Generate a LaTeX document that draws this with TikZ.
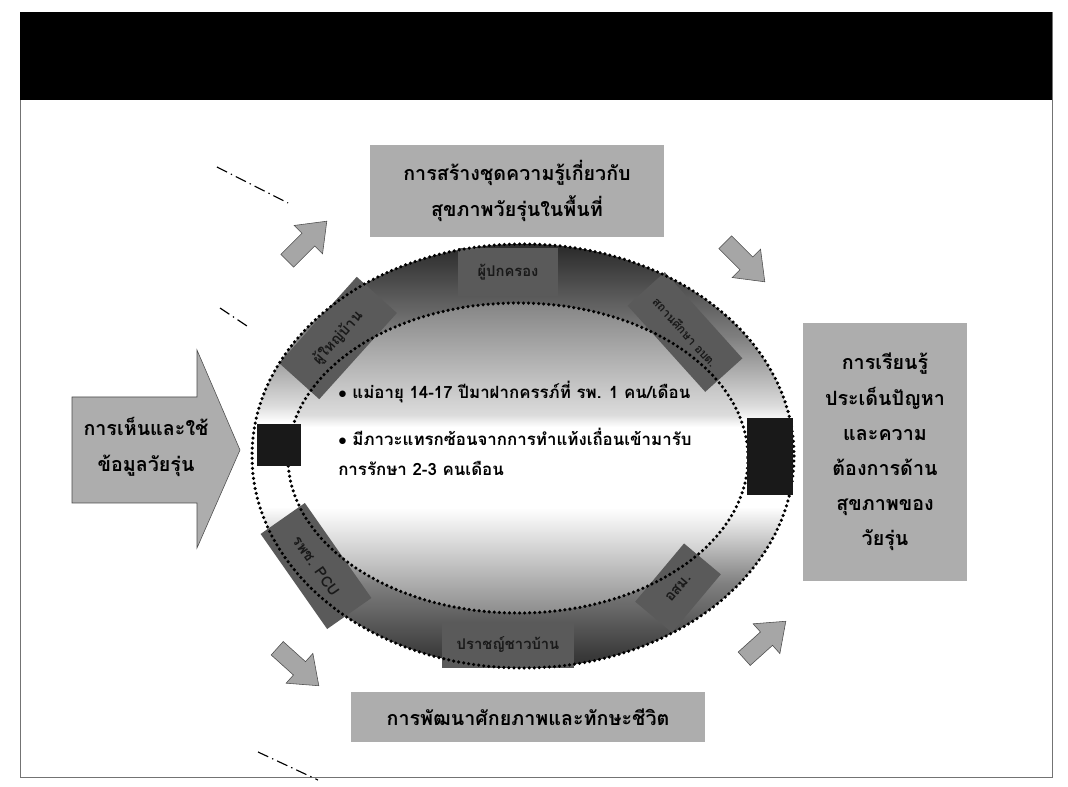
\documentclass[tikz,border=0pt]{standalone}
\usepackage{fontspec}
\newfontfamily\thaifont[Script=Thai]{Loma}
\usepackage{tikz}
\definecolor{boxgray}{HTML}{ADADAD}
\definecolor{taggray}{HTML}{5A5A5A}

\pgfdeclareverticalshading{ringshade}{100bp}{color(0bp)=(black!82); color(25bp)=(black!82); color(35bp)=(black!50); color(44bp)=(white); color(54bp)=(white); color(56bp)=(black!14); color(64bp)=(black!50); color(75bp)=(black!84); color(100bp)=(black!84)}
\pgfdeclareverticalshading{coreshade}{100bp}{color(0bp)=(black!45); color(25bp)=(black!45); color(42bp)=(white); color(55bp)=(white); color(57bp)=(black!14); color(75bp)=(black!48); color(100bp)=(black!48)}

\begin{document}
\begin{tikzpicture}[
  x=0.025cm, y=-0.025cm,
  topic/.style={fill=boxgray, inner sep=0pt, align=center, font=\thaifont\bfseries\fontsize{14}{25}\selectfont},
  ringtag/.style={fill=taggray, inner sep=0pt, text=black!90, font=\thaifont\bfseries\fontsize{10.5}{12}\selectfont},
  blockarrow/.style={draw=black!70, fill=black!35, line join=miter},
  dotline/.style={line width=2.5pt, line cap=round, dash pattern=on 0pt off 3.6pt},
  dashdot/.style={thick, dash pattern=on 8pt off 3pt on 1pt off 3pt}
]
  \useasboundingbox (0,0) rectangle (1068,787);
  \fill[white] (0,0) rectangle (1068,787);
  \draw[black!55, thin] (20,12) rectangle (1052,777);
  \fill[black] (20,12) rectangle (1052,100);

  % ring of partners
  \shade[shading=ringshade] (523,456) ellipse [x radius=271, y radius=212];
  \shade[shading=coreshade] (518,458) ellipse [x radius=230, y radius=155];

  \node[ringtag, minimum width=2.5cm, minimum height=1.2cm] (parent) at (508,272) {ผู้ปกครอง};
  \node[ringtag, minimum width=2.9cm, minimum height=1.35cm, rotate=48] (headman) at (338,338) {ผู้ใหญ่บ้าน};
  \node[ringtag, minimum width=2.9cm, minimum height=1.25cm, rotate=-48, font=\thaifont\bfseries\fontsize{8.5}{10}\selectfont] (school) at (685,332) {สถานศึกษา อบต.};
  \node[ringtag, minimum width=2.9cm, minimum height=1.35cm, rotate=-55] (hospital) at (316,566) {รพช. PCU};
  \node[ringtag, minimum width=1.9cm, minimum height=1.2cm, rotate=50] (volunteer) at (678,588) {อสม.};
  \node[ringtag, minimum width=3.3cm, minimum height=1.15cm] (sage) at (508,645) {ปราชญ์ชาวบ้าน};

  \draw[dotline] (523,456) ellipse [x radius=271, y radius=212];
  \draw[dotline] (518,458) ellipse [x radius=230, y radius=155];

  \fill[black!90] (257,424) rectangle (301,466);
  \fill[black!90] (747,418) rectangle (793,495);

  \node[anchor=west, inner sep=0pt, font=\thaifont\bfseries\fontsize{12}{21}\selectfont] (note1) at (338,392) {$\bullet$ แม่อายุ 14-17 ปีมาฝากครรภ์ที่ รพ. 1 คน/เดือน};
  \node[anchor=north west, inner sep=0pt, align=left, font=\thaifont\bfseries\fontsize{12}{21}\selectfont] (note2) at (338,428) {$\bullet$ มีภาวะแทรกซ้อนจากการทำแท้งเถื่อนเข้ามารับ\\การรักษา 2-3 คนเดือน};

  % outcome boxes
  \node[topic, minimum width=7.35cm, minimum height=2.3cm] (kit) at (517,191) {การสร้างชุดความรู้เกี่ยวกับ\\สุขภาพวัยรุ่นในพื้นที่};
  \node[topic, minimum width=8.83cm, minimum height=1.25cm] (skill) at (528,717) {การพัฒนาศักยภาพและทักษะชีวิต};
  \node[topic, minimum width=4.1cm, minimum height=6.45cm] (learn) at (885,452) {การเรียนรู้\\ประเด็นปัญหา\\และความ\\ต้องการด้าน\\สุขภาพของ\\วัยรุ่น};

  % input arrow
  \draw[draw=black!70, fill=boxgray] (72,397) -- (197,397) -- (197,350) -- (240,450) -- (197,548) -- (197,503) -- (72,503) -- cycle;
  \node[align=center, inner sep=0pt, font=\thaifont\bfseries\fontsize{14}{25}\selectfont] (see) at (146,447) {การเห็นและใช้\\ข้อมูลวัยรุ่น};

  % small block arrows
  \foreach \cx/\cy/\ang in {307/241/45, 745/262/-45, 298/667/-42, 765/640/42}
    \draw[blockarrow, shift={(\cx,\cy)}, rotate=\ang]
      (-28,-9) -- (2,-9) -- (2,-20) -- (28,0) -- (2,20) -- (2,9) -- (-28,9) -- cycle;

  \draw[dashdot] (217,167) -- (288,203);
  \draw[dashdot] (220,308) -- (250,328);
  \draw[dashdot] (258,752) -- (318,780);
\end{tikzpicture}
\end{document}
